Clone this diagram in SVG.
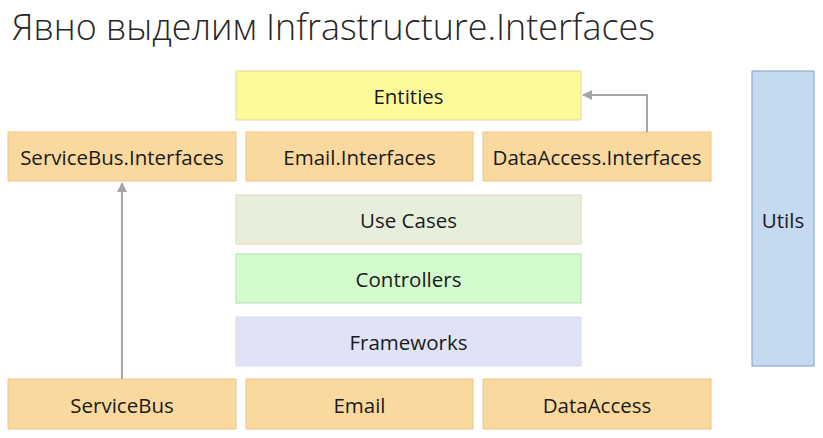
<svg xmlns="http://www.w3.org/2000/svg" width="823" height="438" viewBox="0 0 823 438">
<style>
.t{font-family:"Open Sans","Noto Sans",sans-serif;font-size:20.5px;fill:#1a1a1a;text-anchor:middle;dominant-baseline:central}
.or{fill:#fad99e;stroke:#efc48a;stroke-width:1}
.ln{fill:none;stroke:#a6a6a6;stroke-width:2}
</style>
<defs>
<marker id="ah" viewBox="0 0 10 10" refX="9" refY="5" markerWidth="5" markerHeight="5" orient="auto">
<path d="M0,0 L10,5 L0,10 z" fill="#a6a6a6"/>
</marker>
</defs>
<rect width="823" height="438" fill="#ffffff"/>
<text x="12" y="40" font-family="'Open Sans','Noto Sans',sans-serif" font-weight="300" font-size="36" fill="#262626" textLength="643" lengthAdjust="spacingAndGlyphs">Явно выделим Infrastructure.Interfaces</text>
<g id="entities"><rect x="236" y="71" width="345" height="49" fill="#fafa9b" stroke="#ecd39a"/><text class="t" x="408.5" y="96">Entities</text></g>
<g id="servicebus-interfaces"><rect class="or" x="8" y="132" width="228" height="49"/><text class="t" x="122" y="157">ServiceBus.Interfaces</text></g>
<g id="email-interfaces"><rect class="or" x="246" y="132" width="227" height="49"/><text class="t" x="359.5" y="157">Email.Interfaces</text></g>
<g id="dataaccess-interfaces"><rect class="or" x="483" y="132" width="228" height="49"/><text class="t" x="597" y="157">DataAccess.Interfaces</text></g>
<g id="usecases"><rect x="236" y="195" width="345" height="49" fill="#e7efdc" stroke="#ecd2b4"/><text class="t" x="408.5" y="220">Use Cases</text></g>
<g id="controllers"><rect x="236" y="254" width="345" height="49" fill="#d3fbcd" stroke="#b8d9b3"/><text class="t" x="408.5" y="279">Controllers</text></g>
<g id="frameworks"><rect x="236" y="317" width="345" height="49" fill="#dfe3f5" stroke="#d8dcee"/><text class="t" x="408.5" y="342">Frameworks</text></g>
<g id="servicebus"><rect class="or" x="8" y="379" width="228" height="50"/><text class="t" x="122" y="405">ServiceBus</text></g>
<g id="email"><rect class="or" x="246" y="379" width="227" height="50"/><text class="t" x="359.5" y="405">Email</text></g>
<g id="dataaccess"><rect class="or" x="483" y="379" width="228" height="50"/><text class="t" x="597" y="405">DataAccess</text></g>
<g id="utils"><rect x="752" y="71" width="62" height="295" fill="#c5d9f1" stroke="#7e9dcb"/><text class="t" x="783" y="220">Utils</text></g>
<g id="connectors">
<path class="ln" d="M122,379 V183" marker-end="url(#ah)"/>
<path class="ln" d="M647,132 V95 H583" marker-end="url(#ah)"/>
</g>
</svg>
